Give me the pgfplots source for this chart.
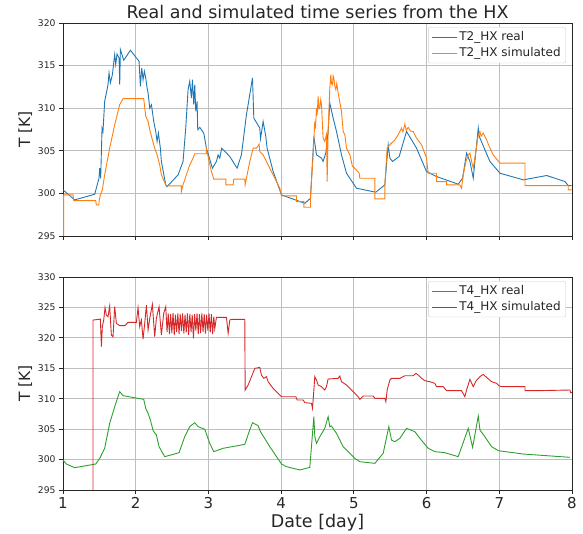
\documentclass[border=0pt]{standalone}
\usepackage{fontspec}
\setmainfont{DejaVu Sans}
\usepackage{pgfplots}
\pgfplotsset{compat=1.18}
\definecolor{tabblue}{RGB}{31,119,180}
\definecolor{taborange}{RGB}{255,127,14}
\definecolor{tabgreen}{RGB}{44,160,44}
\definecolor{tabred}{RGB}{214,39,40}
\definecolor{gridgray}{RGB}{190,190,190}

\pgfplotsset{hxpanel/.style={
  scale only axis, width=509pt, height=213pt,
  xmin=1, xmax=8, xtick={1,...,8},
  grid=major, grid style={draw=gridgray, line width=0.8pt},
  axis line style={draw=black!85, line width=0.9pt},
  tick align=outside, tick pos=left, major tick length=4pt,
  tick style={draw=black!85, line width=0.8pt},
  /pgf/number format/assume math mode=true,
  yticklabel style={font=\fontsize{9.2}{10}\selectfont, text=black!85},
  xticklabel style={font=\fontsize{15}{17}\selectfont, text=black!85},
  ylabel={T [K]},
  ylabel style={font=\fontsize{15.5}{18}\selectfont, text=black!85, at={(axis description cs:-0.074,0.5)}, anchor=center},
  legend style={at={(0.988,0.981)}, anchor=north east, draw=black!20, rounded corners=2pt,
    font=\fontsize{12}{14}\selectfont, text=black!85, inner xsep=3pt, inner ysep=2.5pt, row sep=1.5pt},
  legend cell align=left,
  legend image code/.code={\draw[#1, line width=1pt] (0pt,0pt) -- (25pt,0pt);},
  every axis plot/.append style={line width=0.9pt, mark=none},
}}

\begin{document}
\begin{tikzpicture}
\path[use as bounding box] (-63pt,-43pt) rectangle (520pt,490pt);

% top panel: T2
\begin{axis}[hxpanel, at={(0pt,254pt)}, anchor=south west,
  ymin=295, ymax=320, ytick={295,300,...,320}, xticklabels={},
  title={Real and simulated time series from the HX},
  title style={font=\fontsize{17.5}{20}\selectfont, text=black!85, at={(axis description cs:0.5,1)}, anchor=base, yshift=-2pt}]
\addplot[tabblue] table {
1.000 300.41
1.161 299.24
1.436 299.90
1.495 301.78
1.505 302.96
1.518 301.78
1.537 307.67
1.550 307.27
1.573 310.80
1.619 312.76
1.633 314.14
1.651 312.96
1.679 313.94
1.711 316.29
1.725 315.12
1.743 316.37
1.771 315.90
1.780 312.76
1.789 316.88
1.835 315.63
1.927 316.80
2.046 315.51
2.064 312.57
2.083 314.73
2.101 313.35
2.119 314.33
2.138 313.55
2.156 312.37
2.170 311.78
2.193 310.02
2.216 310.41
2.248 308.45
2.275 307.27
2.294 306.10
2.312 307.08
2.339 305.31
2.353 303.75
2.413 301.00
2.431 300.80
2.583 302.18
2.651 303.75
2.688 307.67
2.720 312.18
2.743 313.16
2.766 311.20
2.780 313.35
2.798 310.41
2.812 312.76
2.826 309.63
2.844 310.80
2.853 307.47
2.881 307.75
2.936 307.08
2.972 305.31
3.055 302.96
3.110 303.75
3.133 304.53
3.156 304.14
3.183 305.31
3.294 304.33
3.394 302.96
3.454 304.53
3.523 309.24
3.606 313.55
3.624 308.84
3.706 307.67
3.716 306.41
3.729 307.08
3.752 308.45
3.789 306.69
3.807 305.31
3.890 302.57
4.005 299.82
4.326 298.84
4.404 299.43
4.450 306.69
4.486 304.53
4.555 304.14
4.577 303.75
4.614 304.73
4.646 307.27
4.669 310.61
4.715 308.84
4.761 307.27
4.830 304.53
4.899 302.37
5.036 300.61
5.302 300.14
5.426 301.00
5.472 305.71
5.495 304.14
5.532 303.75
5.623 304.33
5.724 307.27
5.862 305.31
5.999 302.57
6.137 301.98
6.435 301.08
6.495 301.78
6.550 304.73
6.596 303.75
6.642 301.78
6.678 304.92
6.711 307.67
6.724 306.69
6.871 303.75
7.009 302.37
7.330 301.59
7.651 302.10
7.903 301.39
7.949 300.92
7.995 300.92
};
\addlegendentry{T2\_HX real}
\addplot[taborange] table {
1.009 295.00
1.009 299.82
1.138 299.82
1.147 299.16
1.450 299.16
1.459 298.65
1.495 298.65
1.495 299.04
1.514 299.82
1.541 300.41
1.573 302.18
1.642 305.31
1.711 308.06
1.780 310.41
1.826 311.12
2.110 311.12
2.138 309.04
2.170 308.45
2.193 307.47
2.229 306.29
2.261 305.31
2.294 304.53
2.330 303.35
2.353 302.18
2.413 301.00
2.431 300.88
2.628 300.88
2.628 300.22
2.651 301.00
2.697 302.18
2.743 303.35
2.789 304.14
2.812 304.65
2.972 304.65
2.972 305.31
3.009 303.75
3.041 302.57
3.073 301.67
3.239 301.67
3.239 301.00
3.339 301.00
3.349 301.67
3.500 301.67
3.505 301.00
3.532 302.18
3.569 303.75
3.615 305.31
3.661 305.31
3.697 305.78
3.706 304.92
3.752 304.53
3.798 303.75
3.844 302.96
3.890 302.18
3.936 301.39
3.982 300.61
4.005 299.71
4.211 299.71
4.211 299.04
4.312 299.04
4.312 298.37
4.404 298.37
4.404 299.82
4.440 304.53
4.463 308.45
4.472 307.60
4.486 310.02
4.495 309.20
4.509 311.39
4.520 309.90
4.532 310.02
4.545 311.00
4.555 310.41
4.577 306.49
4.600 306.10
4.623 306.88
4.633 301.39
4.646 307.27
4.669 312.37
4.683 313.94
4.692 312.90
4.706 312.76
4.715 313.80
4.724 313.55
4.738 312.60
4.752 312.18
4.765 312.90
4.784 311.78
4.830 309.63
4.853 307.27
4.876 306.88
4.899 305.31
4.945 304.53
4.981 303.16
5.013 302.96
5.073 302.37
5.082 301.78
5.289 301.78
5.289 299.35
5.426 299.35
5.426 301.00
5.458 305.31
5.495 305.71
5.564 306.29
5.610 306.88
5.655 307.67
5.675 307.20
5.701 308.14
5.720 307.40
5.747 307.75
5.780 307.30
5.816 307.27
5.862 306.49
5.931 305.71
5.999 304.14
6.022 302.37
6.137 302.37
6.137 301.39
6.275 301.39
6.275 301.00
6.458 301.00
6.481 300.61
6.504 302.18
6.541 303.75
6.573 304.53
6.596 304.73
6.619 303.75
6.642 302.96
6.678 304.92
6.711 306.88
6.734 307.27
6.750 306.70
6.779 307.08
6.825 306.29
6.871 305.31
6.917 304.53
7.009 303.55
7.353 303.55
7.353 300.92
7.949 300.92
7.949 300.41
7.995 300.41
};
\addlegendentry{T2\_HX simulated}
\end{axis}

% bottom panel: T4
\begin{axis}[hxpanel, at={(0pt,0pt)}, anchor=south west,
  ymin=295, ymax=330, ytick={295,300,...,330},
  xlabel={Date [day]},
  xlabel style={font=\fontsize{17.5}{20}\selectfont, text=black!85, at={(axis description cs:0.5,0)}, anchor=base, yshift=-37pt}]
\addplot[tabgreen] table {
1.000 299.93
1.046 299.27
1.161 298.67
1.450 299.27
1.505 300.20
1.573 301.85
1.642 305.95
1.711 308.69
1.780 311.16
1.826 310.50
2.110 309.90
2.138 308.42
2.170 307.60
2.202 306.50
2.239 304.75
2.284 304.04
2.321 302.12
2.399 300.48
2.596 301.13
2.674 303.76
2.743 305.41
2.812 306.06
2.858 305.41
2.950 304.97
3.018 302.67
3.073 301.30
3.202 301.85
3.500 302.50
3.560 304.58
3.606 306.06
3.683 305.57
3.716 304.58
3.844 302.12
4.005 299.27
4.073 298.83
4.257 298.29
4.394 298.72
4.450 307.05
4.463 303.76
4.486 302.67
4.532 303.76
4.600 305.13
4.646 307.05
4.669 305.41
4.692 305.51
4.761 304.31
4.853 302.12
5.013 300.20
5.082 299.65
5.289 299.38
5.403 301.02
5.481 305.41
5.518 303.21
5.564 302.94
5.633 303.49
5.724 305.13
5.839 304.58
5.908 303.49
6.022 301.85
6.114 301.30
6.252 301.13
6.435 300.48
6.573 305.13
6.633 302.01
6.711 307.16
6.734 304.86
6.802 303.76
6.894 302.12
6.986 301.46
7.330 300.91
7.972 300.37
};
\addlegendentry{T4\_HX real}
\addplot[tabred] table {
1.413 295.00
1.413 322.93
1.495 323.04
1.514 323.09
1.528 318.55
1.541 321.83
1.560 322.93
1.578 324.96
1.596 323.75
1.619 323.48
1.642 325.23
1.665 320.47
1.688 320.19
1.711 325.12
1.734 322.38
1.780 322.00
1.849 322.00
1.894 322.55
2.009 322.55
2.032 324.96
2.055 321.83
2.078 322.93
2.101 319.81
2.124 322.38
2.147 325.39
2.170 321.29
2.193 323.20
2.229 325.50
2.261 320.19
2.284 323.20
2.321 325.12
2.353 320.47
2.385 324.03
2.413 325.12
2.431 321.00
2.447 324.00
2.464 320.60
2.480 323.90
2.497 320.80
2.513 324.10
2.530 320.50
2.546 323.80
2.563 321.00
2.579 324.00
2.596 320.60
2.612 323.90
2.629 321.10
2.645 324.00
2.662 320.70
2.678 323.80
2.695 320.90
2.711 324.00
2.728 320.50
2.744 323.90
2.761 321.00
2.777 323.80
2.794 319.90
2.810 323.90
2.827 321.20
2.843 324.00
2.860 320.60
2.876 323.90
2.893 320.80
2.909 324.00
2.926 321.00
2.942 323.90
2.959 320.70
2.975 323.80
2.992 321.20
3.008 324.00
3.025 320.90
3.041 323.90
3.058 320.60
3.074 323.50
3.087 321.50
3.110 323.37
3.248 323.37
3.271 320.74
3.294 322.93
3.317 323.04
3.500 323.04
3.505 311.43
3.546 312.25
3.638 314.99
3.706 315.15
3.729 313.89
3.761 313.35
3.798 313.62
3.821 312.80
3.890 311.70
3.959 310.88
4.005 310.33
4.202 310.33
4.220 309.79
4.303 309.79
4.326 309.35
4.417 309.24
4.431 308.42
4.440 309.79
4.463 313.62
4.486 313.07
4.509 312.25
4.555 311.98
4.600 311.43
4.623 311.98
4.646 313.24
4.784 313.35
4.807 313.73
4.830 312.80
4.899 312.25
4.967 311.43
5.013 310.88
5.059 310.33
5.082 309.90
5.128 310.44
5.266 310.44
5.289 310.06
5.426 310.06
5.440 309.51
5.458 311.43
5.495 313.07
5.518 313.35
5.633 313.35
5.701 313.78
5.816 313.78
5.853 314.17
5.885 313.89
5.931 313.35
5.977 312.96
6.045 312.80
6.114 312.52
6.137 311.98
6.229 311.98
6.275 311.32
6.481 311.32
6.527 310.33
6.550 311.43
6.596 313.18
6.642 311.98
6.688 313.07
6.734 313.62
6.779 314.00
6.825 313.51
6.894 312.80
6.963 312.52
7.000 312.09
7.032 311.98
7.353 311.98
7.353 311.32
7.513 311.32
7.972 311.43
7.981 311.00
8.000 311.00
};
\addlegendentry{T4\_HX simulated}
\end{axis}
\end{tikzpicture}
\end{document}
